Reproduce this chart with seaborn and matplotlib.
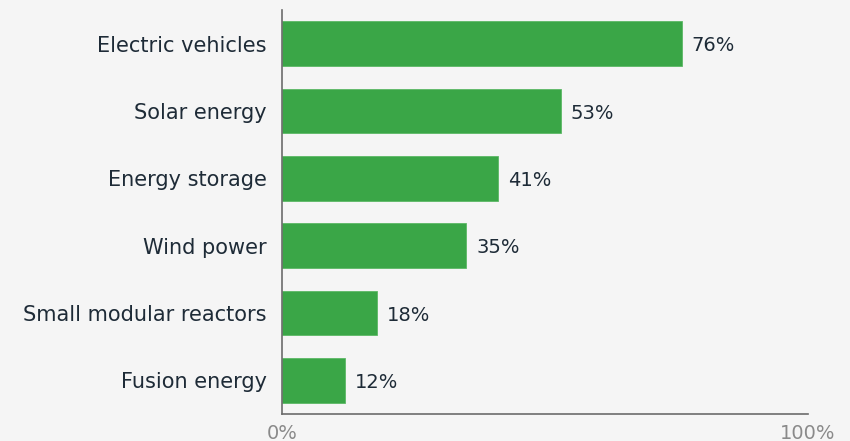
import matplotlib
matplotlib.use("Agg")
import matplotlib.pyplot as plt
import seaborn as sns
import pandas as pd

categories = ["Electric vehicles", "Solar energy", "Energy storage", "Wind power",
              "Small modular reactors", "Fusion energy"]
values = [76, 53, 41, 35, 18, 12]
tick_values = [0, 100]
tick_labels = ["0%", "100%"]

df = pd.DataFrame({"category": categories, "value": values})

sns.set_theme(style="white")
plt.rcParams["font.family"] = ["DejaVu Sans"]

bg = "#f5f5f5"
fig = plt.figure(figsize=(8.5, 4.41), dpi=100, facecolor=bg)
ax = fig.add_axes([282/850, 1-414/441, (808-282)/850, (414-10)/441])
ax.set_facecolor(bg)

sns.barplot(data=df, x="value", y="category", orient="h", color="#3aa647",
            width=0.66, saturation=1, ax=ax, edgecolor="#5cb866", linewidth=0.6)

ax.set_xlim(0, 100)
ax.set_ylim(5.5, -0.5)
ax.set_xticks(tick_values)
ax.set_xticklabels(tick_labels, color="#8a8a8a", fontsize=14)
ax.tick_params(axis="x", length=0, pad=7)
ax.tick_params(axis="y", length=0, pad=11, labelsize=15, labelcolor="#1e2b37")
ax.set_xlabel("")
ax.set_ylabel("")
for s in ["top", "right"]:
    ax.spines[s].set_visible(False)
for s in ["left", "bottom"]:
    ax.spines[s].set_color("#6b6b6b")
    ax.spines[s].set_linewidth(1.2)

for i, v in enumerate(values):
    ax.text(v + 1.9, i + 0.03, f"{v}%", va="center", ha="left", fontsize=14, color="#1e2b37")

fig.savefig("out.png", dpi=100, facecolor=bg)
